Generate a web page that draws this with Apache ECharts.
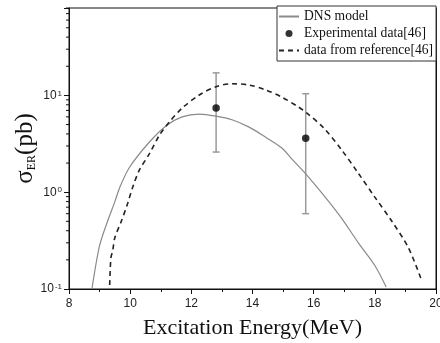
<!DOCTYPE html>
<html><head><meta charset="utf-8">
<script src="https://cdn.jsdelivr.net/npm/echarts@6/dist/echarts.min.js"></script>
<style>html,body{margin:0;padding:0;background:#fff}#c{width:440px;height:343px}</style>
</head><body><div id="c"></div>
<script>
// DNS model curve
var dnsX = [8.75, 9.0, 9.27, 9.5, 9.66, 9.98, 10.63, 11.19, 11.7, 12.26, 12.81, 13.33, 13.89, 14.43, 14.96, 15.29, 15.74, 16.39, 16.91, 17.46, 18.0, 18.37];
var dnsY = [0.1, 0.28, 0.51, 0.8, 1.12, 1.81, 3.3, 4.9, 6.0, 6.4, 6.1, 5.6, 4.7, 3.7, 2.86, 2.2, 1.55, 0.88, 0.54, 0.30, 0.175, 0.105];
// reference curve (dashed)
var refX = [9.33, 9.37, 9.43, 9.5, 9.72, 9.92, 10.08, 10.3, 10.63, 10.96, 11.28, 11.7, 12.26, 12.81, 13.33, 13.89, 14.43, 14.96, 15.5, 15.77, 16.33, 16.91, 17.46, 18.0, 18.54, 19.09, 19.5];
var refY = [0.11, 0.21, 0.25, 0.34, 0.51, 0.77, 1.12, 1.69, 2.5, 3.9, 5.3, 7.4, 10.1, 12.3, 13.2, 12.8, 11.4, 9.6, 7.6, 6.6, 4.6, 2.75, 1.57, 0.89, 0.51, 0.27, 0.13];
// experimental data
var expX = [12.81, 15.74];
var expY = [7.4, 3.6];
var expLow = [2.6, 0.6];
var expHigh = [17.1, 10.4];
// axes
var xTicks = [8, 10, 12, 14, 16, 18, 20];
var yMinorTicks = [0.2, 0.3, 0.4, 0.5, 0.6, 0.7, 0.8, 0.9, 2, 3, 4, 5, 6, 7, 8, 9, 20, 30, 40, 50, 60, 70, 80];

function zip(a, b) { return a.map(function (v, i) { return [v, b[i]]; }); }

var chart = echarts.init(document.getElementById('c'), null, {renderer: 'canvas'});
var serif = 'Liberation Serif';
var sans = 'Liberation Sans';

chart.setOption({
  animation: false,
  backgroundColor: '#fff',
  grid: {left: 69, right: 4, top: 8, bottom: 54, show: true, borderColor: '#111', borderWidth: 1,
    containLabel: false, outerBoundsMode: 'none'},
  legend: {
    orient: 'vertical', left: 277, top: 6,
    padding: [2, 3, 2, 1], itemGap: 0,
    itemWidth: 20, itemHeight: 7,
    borderColor: '#333', borderWidth: 1, backgroundColor: '#fff',
    textStyle: {fontFamily: serif, fontSize: 13.6, color: '#111', lineHeight: 17},
    data: [
      {name: 'DNS model', itemStyle: {opacity: 0}},
      {name: 'Experimental data[46]', icon: 'circle'},
      {name: 'data from reference[46]', itemStyle: {opacity: 0}}
    ]
  },
  xAxis: {
    type: 'value', min: 8, max: 20, interval: 2,
    axisLine: {lineStyle: {color: '#111'}},
    axisTick: {show: true, inside: false, length: 5, lineStyle: {color: '#111'}},
    minorTick: {show: true, splitNumber: 2, length: 3, lineStyle: {color: '#111'}},
    splitLine: {show: false},
    axisLabel: {fontFamily: sans, fontSize: 12, color: '#222', margin: 9,
      formatter: function (v) { return xTicks.indexOf(v) >= 0 ? String(v) : ''; }},
    name: 'Excitation Energy(MeV)', nameLocation: 'middle', nameGap: 28, nameMoveOverlap: false,
    nameTextStyle: {fontFamily: serif, fontSize: 22, color: '#111'}
  },
  yAxis: [{
    type: 'log', logBase: 10, min: 0.1, max: 80,
    axisLine: {show: true, lineStyle: {color: '#111'}},
    axisTick: {show: true, inside: false, length: 5, lineStyle: {color: '#111'}},
    splitLine: {show: false},
    axisLabel: {
      fontFamily: sans, fontSize: 12, color: '#222', margin: 7,
      formatter: function (v) {
        var e = Math.log(v) / Math.LN10;
        if (Math.abs(e - Math.round(e)) > 1e-6) return '';
        return '{b|10}{s|' + Math.round(e) + '}';
      },
      rich: {b: {fontFamily: sans, fontSize: 12, color: '#222'}, s: {fontFamily: sans, fontSize: 8, color: '#222', verticalAlign: 'top', padding: [0, 0, 0, 1]}}
    },
    name: '{a|σ}{b|ER}{a|(pb)}', nameLocation: 'middle', nameGap: 31, nameRotate: 90, nameMoveOverlap: false,
    nameTextStyle: {
      rich: {
        a: {fontFamily: serif, fontSize: 25, color: '#111'},
        b: {fontFamily: serif, fontSize: 12, color: '#111', verticalAlign: 'bottom'}
      }
    }
  }, {
    type: 'log', logBase: 10, min: 0.1, max: 80, position: 'right',
    axisLine: {show: true, lineStyle: {color: '#111'}},
    axisTick: {show: false}, axisLabel: {show: false}, splitLine: {show: false}
  }],
  series: [
    {
      name: 'DNS model', type: 'line', data: zip(dnsX, dnsY), symbol: 'none', smooth: 0.3,
      lineStyle: {color: '#8a8a8a', width: 1.2}, itemStyle: {color: '#8a8a8a'}, z: 3
    },
    {
      name: 'Experimental data[46]', type: 'scatter', data: zip(expX, expY), symbol: 'circle', symbolSize: 7.5,
      itemStyle: {color: '#000'}, z: 5
    },
    {
      name: 'data from reference[46]', type: 'line', data: zip(refX, refY), symbol: 'none', smooth: 0.3,
      lineStyle: {color: '#222', width: 1.6, type: [5, 4]}, itemStyle: {color: '#222'}, z: 4
    },
    {
      name: 'errbars', type: 'custom', z: 2, silent: true,
      data: expX.map(function (x, i) { return [x, expLow[i], expHigh[i]]; }),
      renderItem: function (params, api) {
        var lo = api.coord([api.value(0), api.value(1)]);
        var hi = api.coord([api.value(0), api.value(2)]);
        var w = 3.5;
        var st = {stroke: '#9a9a9a', lineWidth: 1.5};
        return {type: 'group', children: [
          {type: 'line', shape: {x1: lo[0], y1: lo[1], x2: hi[0], y2: hi[1]}, style: st},
          {type: 'line', shape: {x1: lo[0] - w, y1: lo[1], x2: lo[0] + w, y2: lo[1]}, style: st},
          {type: 'line', shape: {x1: hi[0] - w, y1: hi[1], x2: hi[0] + w, y2: hi[1]}, style: st}
        ]};
      }
    },
    {
      name: 'yminor', type: 'custom', z: 2, silent: true, clip: false,
      data: yMinorTicks.map(function (v) { return [8, v]; }),
      renderItem: function (params, api) {
        var p = api.coord([api.value(0), api.value(1)]);
        return {type: 'line', shape: {x1: p[0] - 3, y1: p[1], x2: p[0], y2: p[1]}, style: {stroke: '#111', lineWidth: 1}};
      }
    }
  ]
});
</script></body></html>
